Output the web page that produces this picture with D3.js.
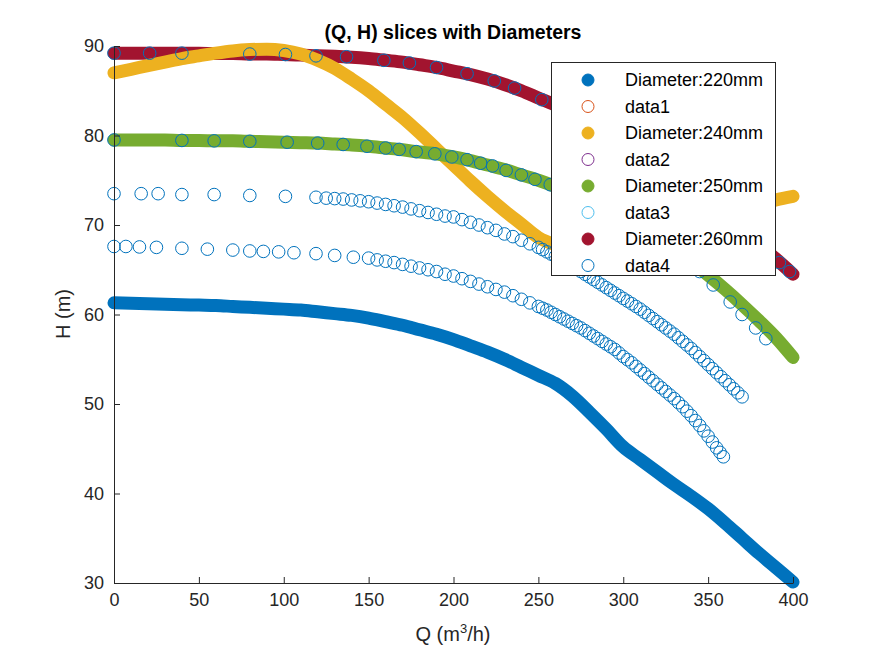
<!DOCTYPE html>
<html><head><meta charset="utf-8">
<script src="https://cdn.jsdelivr.net/npm/d3@7"></script>
<style>body{margin:0;background:#fff}text{font-family:Arial,"Liberation Sans",sans-serif}</style>
</head><body><svg id="c" width="875" height="656"></svg>
<script>
"use strict";
// filled curves, Q every 10 m3/h from 0 to 400
const qGrid = d3.range(0, 401, 10);
const h220 = [61.3,61.25,61.2,61.15,61.1,61.05,61.0,60.9,60.8,60.7,60.6,60.5,60.3,60.1,59.9,59.6,59.2,58.8,58.3,57.8,57.2,56.5,55.8,55.0,54.1,53.2,52.3,50.9,49.1,47.2,45.2,43.8,42.4,41.0,39.7,38.3,36.7,35.0,33.3,31.7,30.1];
const h240 = [87.0,87.4,87.8,88.2,88.6,88.9,89.2,89.45,89.6,89.65,89.5,89.1,88.4,87.5,86.3,85.0,83.5,82.0,80.3,78.5,76.7,74.9,73.2,71.6,70.1,68.6,67.8,67.4,67.1,67.0,67.1,67.4,67.8,68.4,69.1,69.9,70.7,71.5,72.2,72.8,73.2];
const h250 = [79.5,79.5,79.5,79.5,79.45,79.45,79.4,79.4,79.35,79.3,79.25,79.2,79.15,79.05,78.95,78.8,78.6,78.4,78.15,77.95,77.6,77.2,76.7,76.2,75.6,75.0,74.3,73.5,72.7,71.8,70.8,69.7,68.6,67.3,65.9,64.4,62.8,61.1,59.3,57.4,55.2];
const h260 = [89.2,89.2,89.2,89.2,89.2,89.2,89.15,89.15,89.1,89.1,89.05,89.0,88.9,88.85,88.75,88.6,88.4,88.2,87.9,87.6,87.2,86.8,86.3,85.7,85.0,84.2,83.4,82.4,81.4,80.3,79.2,78.0,76.7,75.4,74.0,72.5,71.0,69.4,67.8,66.2,64.5];

// open-circle series
const qOpenA = [0,7,15,25,40,55,70,80,88,97,106,119,130,141,150,155,160,165,170,175,180,185,190,195,200,205,210,215,220,225,230,235,240,245,250,252.5,255,257.5,260,262.5,265,267.5,270,272.5,275,277.5,280,282.5,285,287.5,290,292.5,295,297.5,300,302.5,305,307.5,310,312.5,315,317.5,320,322.5,325,327.5,330,332.5,335,337.5,340,342.5,345,347.5,350,352.5,355,357,359];
const hOpenA = [67.6,67.6,67.55,67.5,67.4,67.3,67.2,67.1,67.05,67.0,66.9,66.8,66.6,66.4,66.3,66.1,65.95,65.8,65.6,65.4,65.2,65.0,64.8,64.5,64.3,64.0,63.7,63.4,63.1,62.8,62.5,62.1,61.7,61.3,60.9,60.7,60.5,60.25,60.0,59.75,59.5,59.25,59.0,58.75,58.5,58.2,57.9,57.6,57.3,57.0,56.7,56.4,56.1,55.7,55.3,54.95,54.6,54.2,53.8,53.4,53.0,52.6,52.2,51.8,51.4,51.0,50.6,50.15,49.7,49.2,48.7,48.15,47.6,47.0,46.4,45.75,45.1,44.6,44.1];
const qOpenB = [0,16,26,40,59,80,101,119,125,130,135,140,145,150,155,160,165,170,175,180,185,190,195,200,205,210,215,220,225,230,235,240,245,250,252.5,255,257.5,260,262.5,265,267.5,270,272.5,275,277.5,280,282.5,285,287.5,290,292.5,295,297.5,300,302.5,305,307.5,310,312.5,315,317.5,320,322.5,325,327.5,330,332.5,335,337.5,340,342.5,345,347.5,350,352.5,355,357.5,360,362.5,365,367.5,370];
const hOpenB = [73.5,73.5,73.5,73.4,73.4,73.3,73.2,73.1,73.0,72.95,72.9,72.8,72.7,72.6,72.45,72.3,72.15,72.0,71.8,71.6,71.4,71.2,71.0,70.9,70.6,70.3,70.0,69.7,69.4,69.0,68.7,68.3,67.9,67.5,67.25,67.0,66.75,66.5,66.25,66.0,65.7,65.4,65.1,64.8,64.5,64.2,63.9,63.6,63.3,63.0,62.7,62.4,62.1,61.8,61.5,61.2,60.9,60.6,60.25,59.9,59.55,59.2,58.85,58.5,58.15,57.8,57.4,57.0,56.6,56.2,55.75,55.3,54.85,54.4,53.95,53.5,53.05,52.6,52.15,51.7,51.25,50.8];
const qOpenC = [0,40,59,80,102,120,135,149,160,168,178,189,199,208,216,223,231,240,248,257,266,276,286,296,306,316,326,336,345,353,363,370,378,384];
const hOpenC = [79.5,79.45,79.4,79.35,79.25,79.15,79.0,78.8,78.6,78.45,78.2,77.95,77.6,77.3,76.9,76.6,76.1,75.6,75.1,74.5,73.8,73.0,72.1,71.0,69.9,68.8,67.6,66.2,64.8,63.3,61.4,60.0,58.5,57.3];
const qOpenD = [0,21,40,80,101,119,137,159,174,190,208,224,236,252,265,278,290,302,313,324,334,344,353,362,370,378,385,392,398];
const hOpenD = [89.2,89.2,89.2,89.1,89.05,88.9,88.8,88.4,88.1,87.6,86.9,86.1,85.3,84.0,82.9,81.6,80.3,79.0,77.6,76.2,74.9,73.4,72.0,70.7,69.4,68.1,67.0,65.8,64.8];

const legendNames = ["Diameter:220mm","data1","Diameter:240mm","data2","Diameter:250mm","data3","Diameter:260mm","data4"];
const legendColors = ["#0072BD","#D95319","#EDB120","#7E2F8E","#77AC30","#4DBEEE","#A2142F","#0072BD"];
const legendFilled = [true,false,true,false,true,false,true,false];
const xTicks = d3.range(0, 401, 50);
const yTicks = d3.range(30, 91, 10);

const svg = d3.select("#c");
const x = d3.scaleLinear().domain([0, 400]).range([114, 793]);
const y = d3.scaleLinear().domain([30, 90]).range([583, 46]);

const line = d3.line().x(d => x(d[0])).y(d => y(d[1])).curve(d3.curveMonotoneX);

function drawFilled(hs, color) {
    const pts = qGrid.map((q, i) => [q, hs[i]]);
    svg.append("path").attr("d", line(pts)).attr("fill", "none")
        .attr("stroke", color).attr("stroke-width", 13).attr("stroke-linecap", "round");
}
function drawOpen(qs, hs) {
    svg.append("g").selectAll("circle").data(qs.map((q, i) => [q, hs[i]])).join("circle")
        .attr("cx", d => x(d[0])).attr("cy", d => y(d[1])).attr("r", 6.3)
        .attr("fill", "none").attr("stroke", "#0072BD").attr("stroke-width", 1);
}

drawFilled(h220, "#0072BD");
drawFilled(h260, "#A2142F");
drawFilled(h240, "#EDB120");
drawFilled(h250, "#77AC30");
drawOpen(qOpenA, hOpenA);
drawOpen(qOpenB, hOpenB);
drawOpen(qOpenC, hOpenC);
drawOpen(qOpenD, hOpenD);

// axes
const ax = svg.append("g").attr("transform", "translate(0,583)")
    .call(d3.axisBottom(x).tickValues(xTicks).tickSizeInner(-6).tickSizeOuter(0).tickPadding(10));
const ay = svg.append("g").attr("transform", "translate(114,0)")
    .call(d3.axisLeft(y).tickValues(yTicks).tickSizeInner(-6).tickSizeOuter(0).tickPadding(10));
[ax, ay].forEach(g => {
    g.select(".domain").attr("stroke", "#262626");
    g.selectAll(".tick line").attr("stroke", "#262626");
    g.selectAll(".tick text").attr("font-size", 18).attr("fill", "#262626")
        .attr("font-family", "Arial, 'Liberation Sans', sans-serif");
});

svg.append("text").attr("x", 453).attr("y", 39).attr("text-anchor", "middle")
    .attr("font-size", 19.5).attr("font-weight", "bold").attr("fill", "#000")
    .text("(Q, H) slices with Diameters");
const xl = svg.append("text").attr("x", 453).attr("y", 641).attr("text-anchor", "middle")
    .attr("font-size", 20).attr("fill", "#262626");
xl.append("tspan").text("Q (m");
xl.append("tspan").attr("font-size", 13).attr("dy", -8).text("3");
xl.append("tspan").attr("dy", 8).text("/h)");
svg.append("text").attr("transform", "translate(70,314) rotate(-90)").attr("text-anchor", "middle")
    .attr("font-size", 20).attr("fill", "#262626").text("H (m)");

// legend
const lg = svg.append("g");
lg.append("rect").attr("x", 551.5).attr("y", 62.5).attr("width", 224).attr("height", 213)
    .attr("fill", "#fff").attr("stroke", "#262626").attr("stroke-width", 1);
legendNames.forEach((name, i) => {
    const yy = 80 + i * 26.5;
    lg.append("circle").attr("cx", 588).attr("cy", yy).attr("r", 6)
        .attr("fill", legendFilled[i] ? legendColors[i] : "none")
        .attr("stroke", legendColors[i]).attr("stroke-width", 1);
    lg.append("text").attr("x", 625).attr("y", yy + 6).attr("font-size", 18)
        .attr("fill", "#000").text(name);
});
</script></body></html>
